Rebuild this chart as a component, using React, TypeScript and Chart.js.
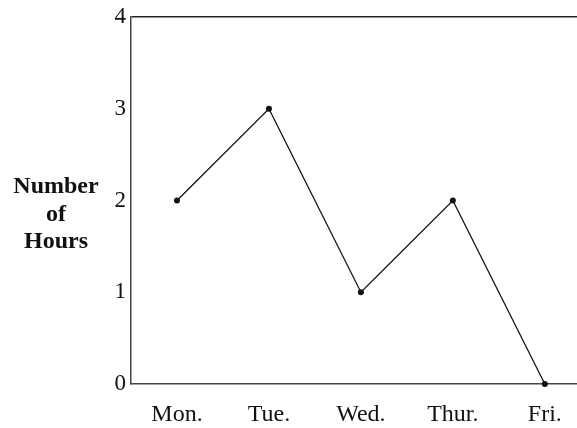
import React, { useEffect, useRef } from 'react';
import { Chart, registerables } from 'chart.js';

Chart.register(...registerables);

const days = ['Mon.', 'Tue.', 'Wed.', 'Thur.', 'Fri.'];
const hours = [2, 3, 1, 2, 0];
const yTickValues = [0, 1, 2, 3, 4];
const titleLines = ['Number', 'of', 'Hours'];

const FONT = '"Liberation Serif", "Times New Roman", serif';

const titlePlugin = {
  id: 'sideTitle',
  afterDraw(chart: any) {
    const { ctx, chartArea } = chart;
    ctx.save();
    ctx.font = `bold 24px ${FONT}`;
    ctx.fillStyle = '#111';
    ctx.textAlign = 'center';
    ctx.textBaseline = 'alphabetic';
    const cx = chartArea.left - 75;
    const mid = (chartArea.top + chartArea.bottom) / 2;
    const offsets = [-8, 20, 47];
    titleLines.forEach((t, i) => ctx.fillText(t, cx, mid + offsets[i]));
    ctx.restore();
  },
};

export default function App() {
  const ref = useRef<HTMLCanvasElement>(null);
  useEffect(() => {
    document.body.style.margin = '0';
    const chart = new Chart(ref.current!, {
      type: 'line',
      data: {
        datasets: [
          {
            data: hours.map((h, i) => ({ x: i + 1, y: h })),
            borderColor: '#111',
            borderWidth: 1.3,
            pointRadius: 3,
            pointBackgroundColor: '#111',
            pointBorderColor: '#111',
            pointBorderWidth: 0,
            tension: 0,
            clip: false as any,
          },
        ],
      },
      options: {
        animation: false,
        responsive: true,
        maintainAspectRatio: false,
        layout: { autoPadding: false, padding: { left: 0, top: 17, right: 0, bottom: 0 } },
        plugins: { legend: { display: false }, tooltip: { enabled: false } },
        scales: {
          x: {
            type: 'linear',
            min: 0.5,
            max: 5.35,
            afterBuildTicks: (scale: any) => {
              scale.ticks = days.map((_, i) => ({ value: i + 1 }));
            },
            afterFit: (scale: any) => {
              scale.height = 44;
              scale.paddingLeft = 0;
              scale.paddingRight = 0;
            },
            grid: { display: false, drawTicks: false },
            border: { display: true, color: '#444', width: 1.5 },
            ticks: {
              color: '#111',
              font: { family: FONT, size: 24 },
              padding: 16,
              maxRotation: 0,
              autoSkip: false,
              callback: (v: any) => days[Number(v) - 1] ?? '',
            },
          },
          y: {
            type: 'linear',
            min: 0,
            max: 4,
            afterBuildTicks: (scale: any) => {
              scale.ticks = yTickValues.map((v) => ({ value: v }));
            },
            afterFit: (scale: any) => {
              scale.width = 131;
              scale.paddingTop = 0;
              scale.paddingBottom = 0;
            },
            grid: {
              drawTicks: false,
              tickLength: 0,
              lineWidth: 1.5,
              color: (c: any) => (c.tick && c.tick.value === 4 ? '#222' : 'rgba(0,0,0,0)'),
            },
            border: { display: true, color: '#444', width: 1.5 },
            ticks: {
              color: '#111',
              font: { family: FONT, size: 23 },
              padding: 5,
              callback: (v: any) => String(v),
            },
          },
        },
      },
      plugins: [titlePlugin],
    });
    return () => chart.destroy();
  }, []);
  return (
    <div style={{ position: 'relative', width: 577, height: 428 }}>
      <canvas ref={ref} />
    </div>
  );
}
